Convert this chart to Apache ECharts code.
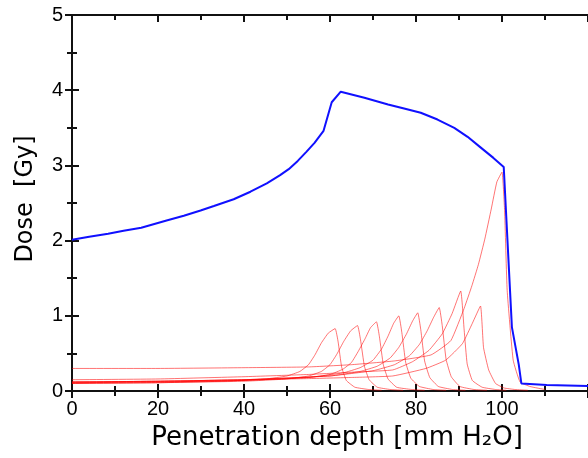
<!DOCTYPE html>
<html lang="en">
<head>
    <meta charset="UTF-8">
    <title>Dose vs penetration depth</title>
    <script src="https://cdn.jsdelivr.net/npm/echarts@6/dist/echarts.min.js"></script>
    <style>
        body { margin: 0; background: #fff; }
    </style>
</head>
<body>
<div id="main" style="width: 588px;height:458px;"></div>
<script type="text/javascript">
    // depth [mm], dose [Gy] pairs
    var sobp = [[0, 2.01], [4, 2.05], [8.4, 2.09], [12, 2.13], [16.1, 2.17], [22.2, 2.27], [26, 2.33], [29.9, 2.40],
        [33, 2.46], [37.6, 2.55], [41.5, 2.65], [45.3, 2.76], [48.4, 2.87], [50.4, 2.95], [52.5, 3.06], [54.5, 3.18],
        [56.4, 3.30], [58.5, 3.46], [60.4, 3.84], [62.5, 3.98], [68, 3.90], [73.5, 3.81], [77, 3.76], [81.1, 3.70],
        [85, 3.61], [88.9, 3.50], [92, 3.38], [95.0, 3.24], [98, 3.10], [100.4, 2.98],
        [102.3, 0.85], [103.9, 0.35], [104.5, 0.10], [110.4, 0.08], [120, 0.067]];

    var peak61 = [[0, 0.10], [20, 0.11], [35, 0.13], [45, 0.16], [50, 0.20], [53, 0.26], [55, 0.35], [56.5, 0.48],
        [58, 0.64], [59.6, 0.77], [61.2, 0.83], [61.9, 0.65], [62.7, 0.32], [63.8, 0.14], [65.8, 0.05], [69, 0.02], [72, 0.01]];
    var peak66 = [[0, 0.10], [20, 0.11], [40, 0.13], [50, 0.16], [55, 0.20], [58, 0.26], [60, 0.35], [61.6, 0.49],
        [63.2, 0.66], [64.8, 0.80], [66.4, 0.87], [67.1, 0.68], [68, 0.33], [69.1, 0.15], [71, 0.05], [74, 0.02], [77, 0.01]];
    var peak71 = [[0, 0.11], [20, 0.12], [40, 0.14], [55, 0.18], [60, 0.22], [63, 0.29], [65, 0.38], [66.6, 0.53],
        [68.2, 0.70], [69.4, 0.84], [70.8, 0.92], [71.5, 0.72], [72.4, 0.35], [73.5, 0.16], [75.5, 0.05], [79, 0.02], [82, 0.01]];
    var peak76 = [[0, 0.11], [20, 0.12], [40, 0.14], [55, 0.18], [63, 0.24], [67, 0.31], [70, 0.41], [72, 0.56],
        [73.5, 0.73], [74.8, 0.90], [76, 1.00], [76.7, 0.78], [77.6, 0.38], [78.8, 0.17], [80.8, 0.06], [84, 0.02], [87, 0.01]];
    var peak80 = [[0, 0.12], [20, 0.13], [40, 0.15], [60, 0.20], [67, 0.26], [71, 0.33], [74, 0.44], [76, 0.58],
        [77.8, 0.76], [79.2, 0.93], [80.4, 1.04], [81.1, 0.82], [82, 0.40], [83.2, 0.18], [85.2, 0.06], [88.5, 0.02], [91.5, 0.01]];
    var peak85 = [[0, 0.12], [20, 0.13], [40, 0.15], [60, 0.20], [70, 0.27], [75, 0.35], [78.5, 0.47], [80.8, 0.62],
        [82.6, 0.80], [84.1, 0.98], [85.4, 1.11], [86.1, 0.87], [87, 0.42], [88.2, 0.19], [90.2, 0.06], [93.5, 0.02], [96.5, 0.01]];
    var peak90 = [[0, 0.15], [20, 0.16], [40, 0.19], [55, 0.22], [65, 0.25], [74.6, 0.28], [79.2, 0.39], [83, 0.54],
        [86.1, 0.76], [88.4, 1.03], [90.4, 1.33], [91.2, 0.81], [91.9, 0.36], [93.1, 0.14], [95.4, 0.05], [98.5, 0.02], [101, 0.01]];
    var peak95 = [[0, 0.12], [20, 0.13], [40, 0.15], [55, 0.165], [65, 0.18], [74.6, 0.20], [82.3, 0.30], [86.9, 0.41],
        [90.8, 0.63], [93.1, 0.90], [95, 1.13], [95.7, 0.58], [96.9, 0.28], [98.5, 0.10], [100.5, 0.04], [103, 0.02], [106, 0.01]];
    var peak100 = [[0, 0.30], [20, 0.30], [40, 0.31], [55, 0.32], [65, 0.35], [75, 0.40], [83.5, 0.48], [88.1, 0.67],
        [91.2, 1.10], [93, 1.40], [94.5, 1.68], [96, 2.02], [97.5, 2.42], [98.8, 2.78], [100, 2.91], [100.6, 2.40],
        [101.2, 1.34], [102.6, 0.41], [104.2, 0.12], [106.5, 0.06], [110, 0.02]];

    var peaks = [peak61, peak66, peak71, peak76, peak80, peak85, peak90, peak95, peak100];

    var myChart = echarts.init(document.getElementById('main'));
    var tickFont = 'Liberation Sans';
    var nameFont = 'DejaVu Sans';
    var ink = '#111';

    var series = [];
    peaks.forEach(function (p) {
        series.push({
            type: 'line',
            data: p,
            showSymbol: false,
            smooth: 0.12,
            lineStyle: {color: 'rgba(255,0,0,0.55)', width: 1},
            z: 2
        });
    });
    series.push({
        type: 'line',
        data: sobp,
        showSymbol: false,
        lineStyle: {color: '#1010ff', width: 2},
        z: 3
    });

    var tickStyle = {color: ink, width: 2};
    option = {
        animation: false,
        grid: {left: 72, top: 15, width: 520, height: 376, containLabel: false},
        xAxis: [{
            type: 'value', min: 0, max: 120, interval: 20, position: 'bottom',
            axisLine: {lineStyle: {color: ink, width: 2}},
            axisTick: {inside: false, length: 7, lineStyle: tickStyle},
            minorTick: {show: true, splitNumber: 2, length: 5, lineStyle: tickStyle},
            axisLabel: {fontSize: 20, color: '#000', fontFamily: tickFont, margin: 8, showMaxLabel: false},
            splitLine: {show: false},
            name: 'Penetration depth [mm H\u2082O]',
            nameLocation: 'middle', nameGap: 34,
            nameTextStyle: {fontSize: 26, color: '#000', fontFamily: nameFont, padding: [0, 0, 0, 14]}
        }, {
            type: 'value', min: 0, max: 120, interval: 20, position: 'bottom',
            axisLine: {show: false},
            axisTick: {inside: true, length: 7, lineStyle: tickStyle},
            minorTick: {show: true, splitNumber: 2, length: 5, lineStyle: tickStyle},
            axisLabel: {show: false},
            splitLine: {show: false}
        }, {
            type: 'value', min: 0, max: 120, interval: 20, position: 'top',
            axisLine: {lineStyle: {color: ink, width: 2}},
            axisTick: {inside: true, length: 7, lineStyle: tickStyle},
            minorTick: {show: true, splitNumber: 2, length: 5, lineStyle: tickStyle},
            axisLabel: {show: false},
            splitLine: {show: false}
        }],
        yAxis: [{
            type: 'value', min: 0, max: 5, interval: 1, position: 'left',
            axisLine: {show: true, lineStyle: {color: ink, width: 2}},
            axisTick: {show: true, inside: true, length: 7, lineStyle: tickStyle},
            minorTick: {show: true, splitNumber: 2, length: 5, lineStyle: tickStyle},
            axisLabel: {fontSize: 20, color: '#000', fontFamily: tickFont, margin: 9},
            splitLine: {show: false},
            name: 'Dose  [Gy]',
            nameLocation: 'middle', nameGap: 34,
            nameTextStyle: {fontSize: 24, color: '#000', fontFamily: nameFont, padding: [0, 0, 0, 8]}
        }, {
            type: 'value', min: 0, max: 5, interval: 1, position: 'right',
            axisLine: {show: true, lineStyle: {color: ink, width: 2}},
            axisTick: {show: true, inside: true, length: 7, lineStyle: tickStyle},
            minorTick: {show: true, splitNumber: 2, length: 5, lineStyle: tickStyle},
            axisLabel: {show: false},
            splitLine: {show: false}
        }],
        series: series
    };

    myChart.setOption(option);
</script>
</body>
</html>
